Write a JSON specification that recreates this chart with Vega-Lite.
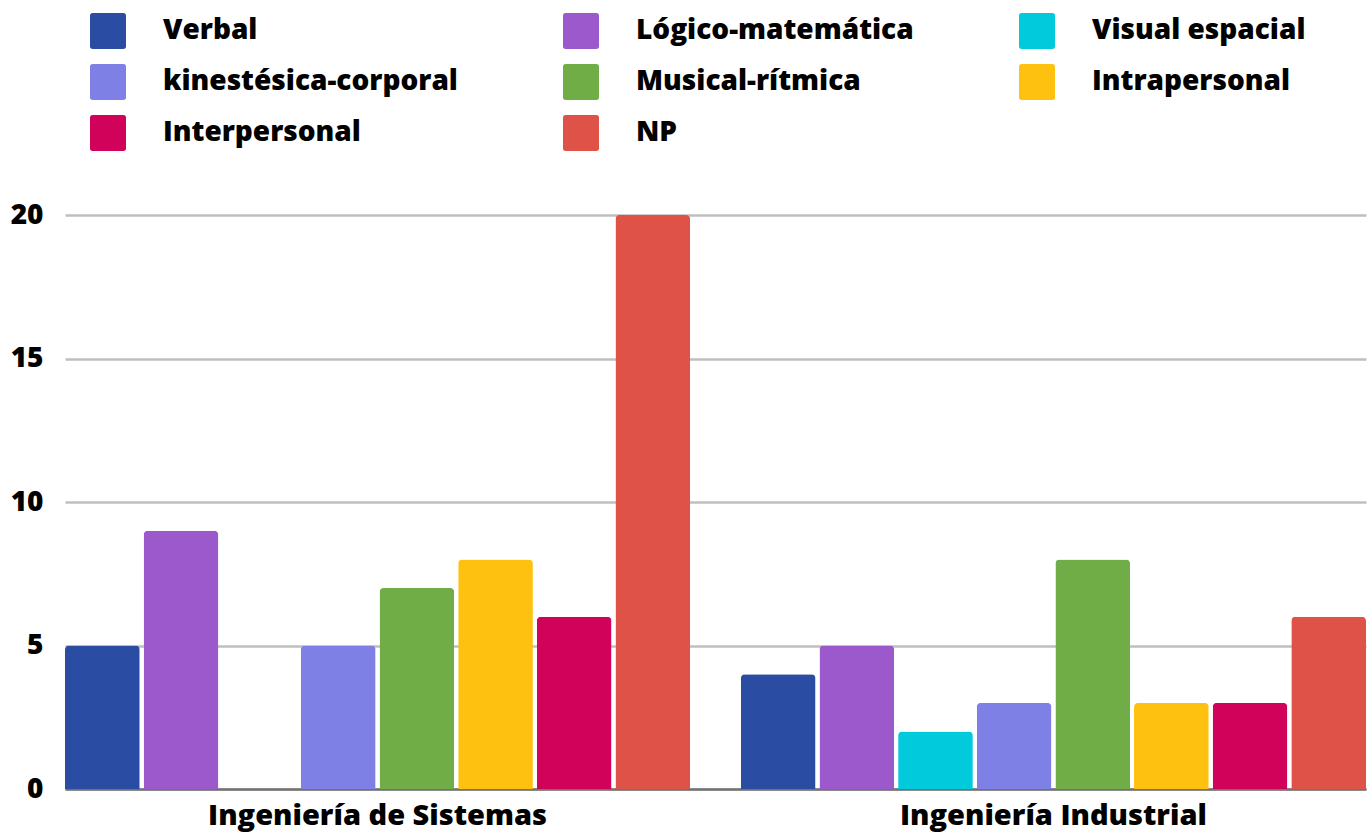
{
  "$schema": "https://vega.github.io/schema/vega-lite/v6.json",
  "autosize": {"type": "none"},
  "width": 1301,
  "height": 574,
  "padding": {"left": 65, "top": 215, "right": 4, "bottom": 45},
  "background": "white",
  "config": {
    "font": "Open Sans",
    "view": {"stroke": null}
  },
  "data": {
    "values": [
      {"carrera": "Ingeniería de Sistemas", "inteligencia": "Verbal", "valor": 5},
      {"carrera": "Ingeniería de Sistemas", "inteligencia": "Lógico-matemática", "valor": 9},
      {"carrera": "Ingeniería de Sistemas", "inteligencia": "Visual espacial", "valor": 0},
      {"carrera": "Ingeniería de Sistemas", "inteligencia": "kinestésica-corporal", "valor": 5},
      {"carrera": "Ingeniería de Sistemas", "inteligencia": "Musical-rítmica", "valor": 7},
      {"carrera": "Ingeniería de Sistemas", "inteligencia": "Intrapersonal", "valor": 8},
      {"carrera": "Ingeniería de Sistemas", "inteligencia": "Interpersonal", "valor": 6},
      {"carrera": "Ingeniería de Sistemas", "inteligencia": "NP", "valor": 20},
      {"carrera": "Ingeniería Industrial", "inteligencia": "Verbal", "valor": 4},
      {"carrera": "Ingeniería Industrial", "inteligencia": "Lógico-matemática", "valor": 5},
      {"carrera": "Ingeniería Industrial", "inteligencia": "Visual espacial", "valor": 2},
      {"carrera": "Ingeniería Industrial", "inteligencia": "kinestésica-corporal", "valor": 3},
      {"carrera": "Ingeniería Industrial", "inteligencia": "Musical-rítmica", "valor": 8},
      {"carrera": "Ingeniería Industrial", "inteligencia": "Intrapersonal", "valor": 3},
      {"carrera": "Ingeniería Industrial", "inteligencia": "Interpersonal", "valor": 3},
      {"carrera": "Ingeniería Industrial", "inteligencia": "NP", "valor": 6}
    ]
  },
  "mark": {"type": "bar", "cornerRadiusTopLeft": 4, "cornerRadiusTopRight": 4},
  "encoding": {
    "x": {
      "field": "carrera",
      "type": "nominal",
      "sort": ["Ingeniería de Sistemas", "Ingeniería Industrial"],
      "scale": {"paddingInner": 0.075, "paddingOuter": 0},
      "axis": {
        "title": null,
        "labelAngle": 0,
        "labelFontSize": 29,
        "labelFontWeight": 800,
        "labelColor": "#000000",
        "labelPadding": 12,
        "labelLimit": 0,
        "ticks": false,
        "domain": true,
        "domainColor": "#737373",
        "domainWidth": 2.5
      }
    },
    "xOffset": {
      "field": "inteligencia",
      "type": "nominal",
      "sort": ["Verbal", "Lógico-matemática", "Visual espacial", "kinestésica-corporal", "Musical-rítmica", "Intrapersonal", "Interpersonal", "NP"],
      "scale": {"paddingInner": 0.05, "paddingOuter": 0}
    },
    "y": {
      "field": "valor",
      "type": "quantitative",
      "scale": {"domain": [0, 20], "nice": false},
      "axis": {
        "title": null,
        "values": [0, 5, 10, 15, 20],
        "labelFontSize": 28,
        "labelFontWeight": 800,
        "labelColor": "#000000",
        "labelPadding": 22,
        "ticks": false,
        "domain": false,
        "grid": true,
        "gridColor": "#bfbfbf",
        "gridWidth": 2.5
      }
    },
    "color": {
      "field": "inteligencia",
      "type": "nominal",
      "scale": {
        "domain": ["Verbal", "Lógico-matemática", "Visual espacial", "kinestésica-corporal", "Musical-rítmica", "Intrapersonal", "Interpersonal", "NP"],
        "range": ["#2a4da3", "#9b59cb", "#00cadc", "#7f80e6", "#70ad47", "#ffc110", "#d0025a", "#df5248"]
      },
      "legend": {
        "title": null,
        "orient": "none",
        "legendX": 25,
        "legendY": -202,
        "direction": "horizontal",
        "columns": 3,
        "columnPadding": 105,
        "rowPadding": 15,
        "symbolType": "M-0.85,-1 L0.85,-1 Q1,-1 1,-0.85 L1,0.85 Q1,1 0.85,1 L-0.85,1 Q-1,1 -1,0.85 L-1,-0.85 Q-1,-1 -0.85,-1 Z",
        "symbolSize": 1296,
        "symbolStrokeWidth": 0,
        "symbolOpacity": 1,
        "labelFontSize": 28,
        "labelFontWeight": 800,
        "labelColor": "#000000",
        "labelOffset": 37,
        "labelLimit": 500
      }
    }
  }
}
